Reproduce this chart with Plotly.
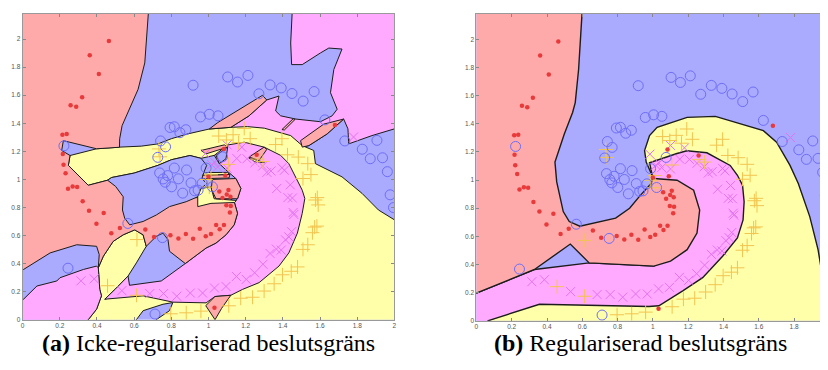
import plotly.graph_objects as go

# ---------------- data: sample points (same data set in both panels) ----------------
red_x = [0.464,0.361,0.410,0.320,0.258,0.288,0.214,0.237,0.216,0.220,0.231,0.244,0.269,0.293,0.323,0.357,0.436,0.397,0.477,0.523,0.660,0.707,0.795,0.838,0.878,0.917,0.953,0.985,1.013,1.041,1.060,1.083,1.058,1.075,1.098,1.107,1.118,1.096,1.120,1.115,1.032,1.680,1.083,1.259,1.000,1.090]
red_y = [1.986,1.885,1.751,1.586,1.528,1.518,1.318,1.323,1.180,1.105,1.043,0.933,0.949,0.945,0.844,0.776,0.761,0.684,0.616,0.653,0.642,0.590,0.602,0.578,0.611,0.576,0.649,0.595,0.611,0.675,0.644,0.675,0.914,0.867,0.893,0.924,0.877,0.816,0.811,0.764,0.085,1.387,1.217,1.175,1.018,1.027]

blue_x = [0.222,0.917,1.103,1.156,1.212,1.271,1.331,1.391,1.449,1.509,1.568,1.626,1.733,1.827,1.870,1.906,1.936,1.962,1.977,1.995,0.957,1.004,1.051,0.793,0.816,0.846,0.878,0.742,0.769,0.727,0.737,0.756,0.780,0.767,0.801,0.816,0.838,0.882,0.861,0.906,0.925,0.944,0.966,1.021,1.075,0.987,0.566,0.752,0.244,0.712]
blue_y = [1.239,1.671,1.730,1.694,1.741,1.610,1.673,1.652,1.612,1.558,1.626,1.424,1.274,1.215,1.147,1.278,1.154,1.055,0.890,0.799,1.445,1.464,1.453,1.370,1.375,1.333,1.354,1.274,1.232,1.157,1.046,1.003,1.027,0.980,0.947,1.081,1.004,1.067,0.902,0.975,0.919,0.923,0.973,0.947,1.161,1.081,0.686,0.585,0.367,0.040]

mag_x = [0.314,0.385,0.534,0.684,0.758,0.829,0.902,0.968,1.032,1.094,1.150,1.203,1.248,1.293,1.331,1.365,1.391,1.414,1.432,1.447,1.459,1.455,1.427,1.451,1.440,1.367,1.395,1.408,1.336,1.314,1.291,1.250,1.207,1.152,1.179,1.100,1.100,1.049,1.017,1.034,0.983,1.780]
mag_y = [0.277,0.291,0.207,0.186,0.186,0.167,0.190,0.190,0.226,0.237,0.308,0.287,0.334,0.395,0.472,0.503,0.496,0.569,0.590,0.627,0.750,0.764,0.870,0.867,0.961,0.935,1.083,1.065,1.060,1.050,1.095,1.119,1.147,1.149,1.229,1.246,1.079,1.088,1.105,1.121,1.184,1.302]

yel_x = [0.457,0.613,0.615,0.733,0.739,0.797,0.880,0.959,1.109,1.173,1.237,1.299,1.353,1.398,1.445,1.479,1.508,1.534,1.559,1.571,1.583,1.590,1.575,1.585,1.551,1.508,1.534,1.483,1.425,1.395,1.361,1.293,1.263,1.224,1.192,1.162,1.132,1.096,1.055,1.013,0.985,1.004,1.107]
yel_y = [0.242,0.174,0.571,1.217,1.161,0.042,0.049,0.061,0.099,0.153,0.160,0.204,0.256,0.320,0.345,0.376,0.501,0.534,0.620,0.660,0.667,0.818,0.853,0.870,1.034,1.006,1.112,1.159,1.175,1.290,1.248,1.128,1.145,1.290,1.363,1.262,1.318,1.281,1.309,1.032,0.999,0.945,1.107]

tick_vals = [0, 0.2, 0.4, 0.6, 0.8, 1, 1.2, 1.4, 1.6, 1.8, 2]
tick_text = ["0", "0.2", "0.4", "0.6", "0.8", "1", "1.2", "1.4", "1.6", "1.8", "2"]

captions = ["<b>(a)</b> Icke-regulariserad beslutsgräns", "<b>(b)</b> Regulariserad beslutsgräns"]

# ---------------- data: decision-region boundaries (vertices) ----------------
# panel (a): non-regularised
a_magenta_top = [(1.447,2.3),(2.1,2.3),(2.1,1.38),(2.0,1.36),(1.879,1.312),(1.754,1.253),(1.75,1.36),(1.727,1.430),
                 (1.638,1.324),(1.540,1.241),(1.504,1.230),(1.45,1.28),(1.30,1.33),(1.18,1.355),(1.120,1.371),
                 (1.218,1.453),(1.313,1.566),(1.379,1.594),(1.361,1.488),(1.388,1.453),(1.469,1.430),(1.602,1.411),
                 (1.665,1.453),(1.692,1.500),(1.656,1.618),(1.674,1.783),(1.718,1.929),(1.647,1.936),(1.602,1.901),
                 (1.504,1.818),(1.447,1.818),(1.442,1.972),(1.447,2.07),(1.454,2.3)]
a_yellow = [(0.255,1.170),(0.398,1.218),(0.523,1.230),(0.639,1.237),(0.728,1.253),(0.80,1.29),(0.888,1.324),
            (1.004,1.359),(1.120,1.371),(1.210,1.376),(1.30,1.365),(1.352,1.347),(1.442,1.312),(1.504,1.241),
            (1.566,1.206),(1.575,1.112),(1.718,1.018),(1.826,0.900),(1.914,0.782),(2.1,0.63),(2.1,-0.1),
            (0.719,-0.1),(0.719,0.0),(0.790,0.064),(0.808,0.122),(0.755,0.110),(0.648,0.064),(0.612,0.0),
            (0.612,-0.1),(0.353,-0.1),(0.353,0.0),(0.398,0.075),(0.424,0.170),(0.415,0.216),(0.407,0.370),
            (0.434,0.452),(0.487,0.558),(0.541,0.605),(0.603,0.640),(0.648,0.605),(0.665,0.523),(0.612,0.405),
            (0.567,0.311),(0.50,0.22),(0.442,0.146),(0.60,0.20),(1.0,0.30),(1.25,0.6),(1.30,1.0),(1.031,1.171),
            (0.96,1.15),(0.90,1.17),(0.80,1.14),(0.728,1.10),(0.60,1.045),(0.478,1.013),(0.457,0.994),
            (0.353,0.958),(0.30,1.03),(0.246,1.10)]
a_magenta_band = [(0.442,0.146),(0.648,0.170),(0.755,0.14),(0.808,0.125),(0.987,0.12),(1.035,0.165),(1.12,0.174),
                  (1.183,0.216),(1.272,0.264),(1.379,0.382),(1.432,0.476),(1.478,0.617),(1.504,0.758),(1.518,0.864),
                  (1.504,0.923),(1.459,1.041),(1.432,1.112),(1.388,1.171),(1.299,1.230),(1.192,1.265),(1.103,1.245),
                  (1.031,1.171),(1.058,1.112),(1.10,1.06),(1.147,1.006),(1.174,0.935),(1.156,0.862),(1.138,0.841),
                  (1.156,0.758),(1.138,0.676),(1.094,0.605),(1.040,0.546),(0.987,0.511),(0.875,0.40),(0.746,0.276),
                  (0.575,0.245),(0.567,0.311),(0.50,0.22)]
a_magenta_low = [(-0.1,0.10),(0.005,0.146),(0.077,0.240),(0.184,0.276),(0.201,0.299),(0.327,0.358),(0.398,0.382),
                 (0.407,0.370),(0.415,0.216),(0.424,0.170),(0.398,0.075),(0.353,0.0),(0.353,-0.1),(-0.1,-0.1)]
a_red = [(-0.1,2.3),(0.676,2.3),(0.676,2.179),(0.669,2.042),(0.657,1.83),(0.621,1.642),(0.576,1.501),(0.535,1.383),
         (0.522,1.289),(0.521,1.229),(0.398,1.218),(0.219,1.276),(0.210,1.206),(0.255,1.170),(0.246,1.10),(0.30,1.03),
         (0.353,0.958),(0.457,0.994),(0.52,0.98),(0.85,0.87),(0.98,0.87),(1.08,0.90),(1.138,0.841),(1.156,0.758),
         (1.138,0.676),(1.094,0.605),(1.040,0.546),(0.987,0.511),(0.875,0.40),(0.790,0.488),(0.782,0.570),
         (0.755,0.617),(0.719,0.594),(0.665,0.523),(0.648,0.605),(0.603,0.640),(0.541,0.605),(0.487,0.558),
         (0.434,0.452),(0.407,0.370),(0.412,0.464),(0.398,0.523),(0.291,0.534),(0.148,0.476),(0.005,0.358),(-0.1,0.30)]
a_blue_island = [(0.457,0.994),(0.478,1.013),(0.60,1.045),(0.728,1.10),(0.80,1.14),(0.90,1.17),(0.96,1.15),(0.99,1.10),
                 (0.975,1.05),(0.965,1.005),(0.99,0.97),(0.96,0.935),(0.942,0.876),(0.880,0.841),(0.790,0.806),
                 (0.719,0.746),(0.648,0.700),(0.576,0.676),(0.549,0.723),(0.537,0.782),(0.541,0.876),(0.50,0.95)]
a_yellow_small = [(0.942,0.876),(0.960,0.935),(1.013,0.947),(1.03,0.862),(1.15,0.850),(1.14,0.835),(1.013,0.829),(0.942,0.806)]
a_red_core = [(1.02,1.0),(1.147,1.006),(1.174,0.935),(1.156,0.862),(1.04,0.862),(1.015,0.93)]
a_red_bottom = [(0.985,0.10),(1.035,0.165),(1.12,0.174),(1.07,0.08),(1.035,0.0)]
a_salmon_1 = [(1.004,1.359),(1.05,1.405),(1.290,1.599),(1.313,1.566),(1.218,1.453),(1.120,1.371)]
a_salmon_2 = [(1.727,1.430),(1.620,1.394),(1.495,1.276),(1.504,1.230),(1.540,1.241),(1.638,1.324)]
a_salmon_thin = [(1.395,1.355),(1.455,1.432),(1.466,1.428),(1.408,1.352)]
a_salmon_a = [(0.960,1.206),(1.085,1.246),(1.103,1.230),(0.987,1.182)]
a_blue_small = [(1.040,1.171),(1.103,1.230),(1.094,1.147),(1.058,1.112)]
a_salmon_c = [(1.218,1.159),(1.299,1.230),(1.313,1.213),(1.272,1.135)]
a_yellow_c = [(1.215,1.155),(1.272,1.135),(1.30,1.12),(1.25,1.125)]
a_red_strip = [(0.965,1.005),(1.11,1.010),(1.115,1.035),(0.97,1.03)]
a_yellow_strip = [(0.97,1.03),(1.115,1.035),(1.10,1.05),(0.975,1.048)]

# panel (b): regularised
b_yellow = [(1.0,1.02),(0.962,1.128),(0.953,1.210),(0.981,1.316),(1.024,1.375),(1.053,1.387),(1.194,1.446),(1.354,1.453),
            (1.508,1.396),(1.626,1.351),(1.701,1.269),(1.777,1.104),(1.824,0.975),(1.889,0.740),(1.936,0.505),
            (1.964,0.293),(1.979,0.106),(1.99,0.0),(1.99,-0.1),(0.066,-0.1),(0.066,0.0),(0.5,0.22),(1.2,0.3),
            (1.45,0.8),(1.2,1.1)]
b_magenta = [(-0.1,0.145),(0.329,0.364),(0.639,0.411),(1.006,0.388),(1.15,0.7),(1.006,1.011),(1.0,1.02),(0.996,1.034),
             (0.981,1.123),(1.056,1.156),(1.132,1.187),(1.192,1.208),(1.306,1.194),(1.438,1.104),(1.479,1.034),
             (1.508,0.964),(1.517,0.846),(1.511,0.717),(1.479,0.588),(1.395,0.458),(1.282,0.306),(1.169,0.212),
             (1.034,0.106),(0.977,0.101),(0.357,0.117),(0.066,0.0),(0.066,-0.1),(-0.1,-0.1)]
b_red = [(-0.1,2.3),(0.598,2.3),(0.598,2.176),(0.588,1.975),(0.579,1.786),(0.560,1.551),(0.545,1.481),(0.498,1.328),
         (0.451,1.152),(0.445,1.128),(0.455,0.987),(0.492,0.776),(0.526,0.705),(0.586,0.672),(0.789,0.729),
         (0.868,0.799),(0.930,0.893),(0.989,0.973),(1.0,1.02),(1.006,1.011),(1.137,0.999),(1.231,0.928),
         (1.265,0.787),(1.250,0.623),(1.194,0.505),(1.100,0.423),(1.006,0.388),(0.639,0.411),(0.532,0.545),
         (0.329,0.364),(-0.1,0.145)]

# ---------------- styles ----------------
C_RED, C_BLUE, C_MAG, C_YEL = "#FFAAAA", "#AAAAFF", "#FFAAFF", "#FFFFAA"
EDGE = "#1c1c1c"

panel_a = [(a_magenta_top, C_MAG), (a_yellow, C_YEL), (a_magenta_band, C_MAG), (a_magenta_low, C_MAG),
           (a_red, C_RED), (a_blue_island, C_BLUE), (a_yellow_small, C_YEL), (a_red_core, C_RED),
           (a_red_bottom, C_RED), (a_salmon_1, C_RED), (a_salmon_2, C_RED), (a_salmon_thin, C_RED),
           (a_salmon_a, C_RED), (a_blue_small, C_BLUE), (a_salmon_c, C_RED), (a_yellow_c, C_YEL),
           (a_red_strip, C_RED), (a_yellow_strip, C_YEL)]
panel_b = [(b_yellow, C_YEL), (b_magenta, C_MAG), (b_red, C_RED)]

fig = go.Figure()

def add_regions(regions, xa, ya, lw):
    for pts, col in regions:
        xs = [p[0] for p in pts] + [pts[0][0]]
        ys = [p[1] for p in pts] + [pts[0][1]]
        fig.add_trace(go.Scatter(x=xs, y=ys, mode="lines", fill="toself", fillcolor=col,
                                 line=dict(color=EDGE, width=lw), hoverinfo="skip",
                                 showlegend=False, xaxis=xa, yaxis=ya))

def add_points(xa, ya):
    fig.add_trace(go.Scatter(x=mag_x, y=mag_y, mode="markers", xaxis=xa, yaxis=ya, showlegend=False,
                             marker=dict(symbol="x-thin-open", size=9, color="#E273EE",
                                         line=dict(width=1, color="#E273EE"))))
    fig.add_trace(go.Scatter(x=yel_x, y=yel_y, mode="markers", xaxis=xa, yaxis=ya, showlegend=False,
                             marker=dict(symbol="cross-thin-open", size=10, color="#F2C450",
                                         line=dict(width=1, color="#F2C450"))))
    fig.add_trace(go.Scatter(x=blue_x, y=blue_y, mode="markers", xaxis=xa, yaxis=ya, showlegend=False,
                             marker=dict(symbol="circle-open", size=10, color="#6E6EF6",
                                         line=dict(width=1, color="#6E6EF6"))))
    fig.add_trace(go.Scatter(x=red_x, y=red_y, mode="markers", xaxis=xa, yaxis=ya, showlegend=False,
                             marker=dict(symbol="circle", size=4.5, color="#E83A3A", line=dict(width=0))))

add_regions(panel_a, "x", "y", 1.0)
add_points("x", "y")
add_regions(panel_b, "x2", "y2", 1.4)
add_points("x2", "y2")

axis_common = dict(tickvals=tick_vals, ticktext=tick_text, ticks="inside", ticklen=3, tickcolor="#888",
                   showline=True, linecolor="#999", linewidth=1, showgrid=False, zeroline=False,
                   tickfont=dict(family="Liberation Sans", size=6.5, color="#555"), fixedrange=True)

# page body has an 8 px margin, so the figure is 820x362 and placed at (8, 8)
fig.update_layout(
    width=820, height=362, margin=dict(l=0, r=0, t=0, b=0),
    paper_bgcolor="white", plot_bgcolor=C_BLUE,
    xaxis=dict(domain=[0.01549, 0.4711], range=[0, 2], mirror="ticks", anchor="y", **axis_common),
    yaxis=dict(domain=[0.1318, 0.9834], range=[0, 2.179], mirror="ticks", anchor="x", **axis_common),
    xaxis2=dict(domain=[0.5716, 1.0], range=[0, 1.981], mirror="ticks", anchor="y2", **axis_common),
    yaxis2=dict(domain=[0.1290, 0.9834], range=[0, 2.181], mirror=False, anchor="x2", **axis_common),
    annotations=[
        dict(text=captions[0], x=0.2427, y=0.066, xref="paper", yref="paper", showarrow=False,
             font=dict(family="Liberation Serif", size=24, color="black"), xanchor="center", yanchor="middle"),
        dict(text=captions[1], x=0.773, y=0.066, xref="paper", yref="paper", showarrow=False,
             font=dict(family="Liberation Serif", size=24, color="black"), xanchor="center", yanchor="middle"),
    ],
)

fig.write_html("out.html")
